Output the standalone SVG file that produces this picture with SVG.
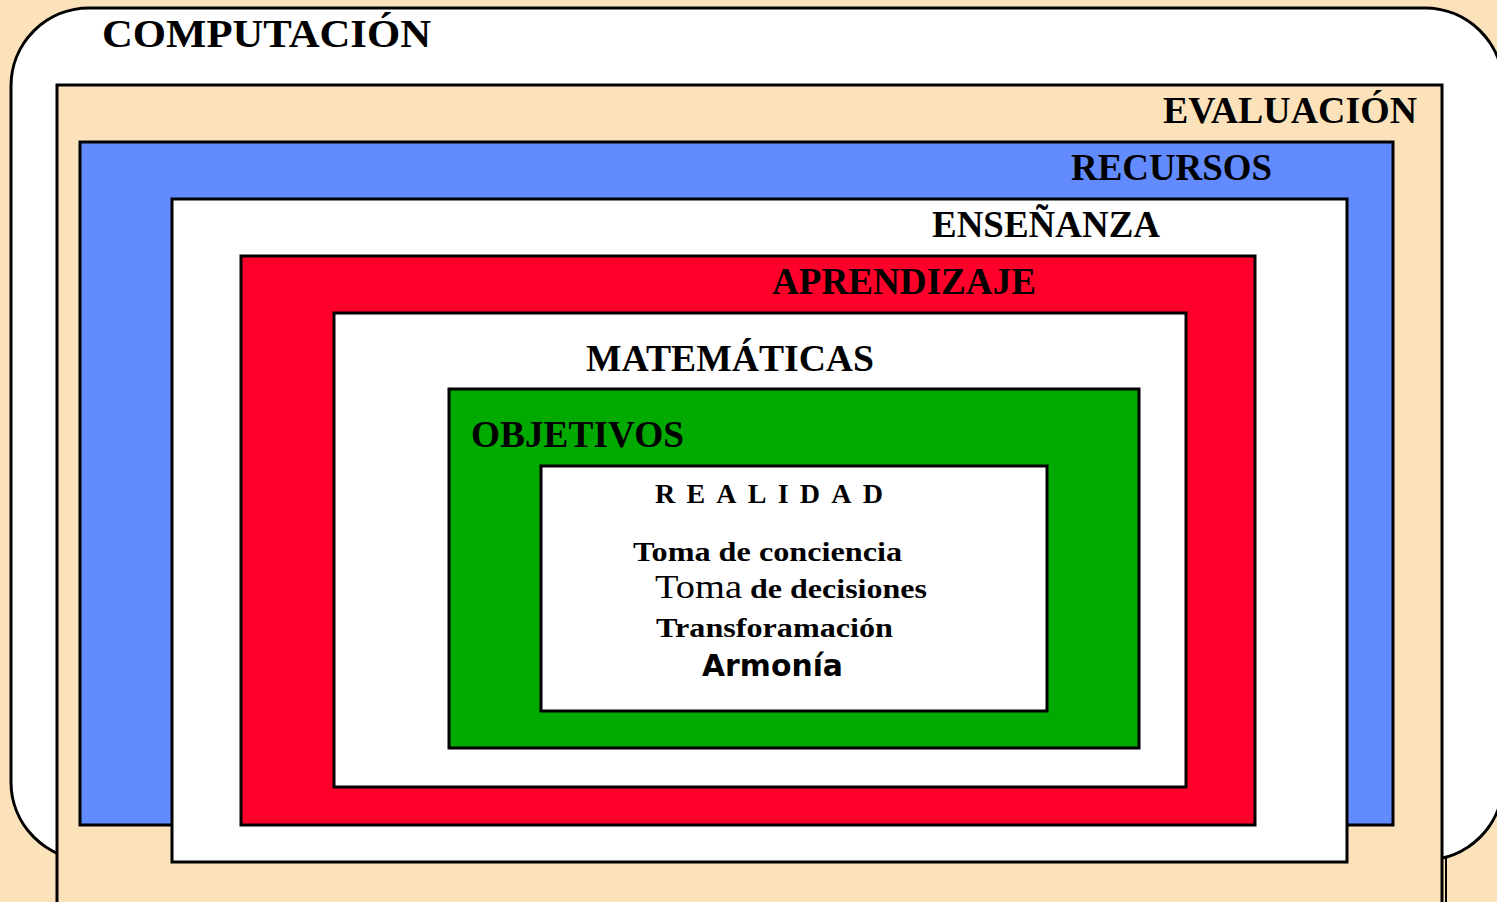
<svg xmlns="http://www.w3.org/2000/svg" width="1497" height="902" viewBox="0 0 1497 902">
<style>
.box{stroke:#000;stroke-width:3}
.lbl{font-family:"Liberation Serif","Times New Roman",serif;font-weight:bold;fill:#000}
.t{font-family:"Liberation Serif","Times New Roman",serif;fill:#000}
</style>
<rect width="1497" height="902" fill="#FCE2BA"/>
<g id="computacion">
<rect class="box" x="11" y="8" width="1492" height="852" rx="78" ry="78" fill="#FFFFFF"/>
<text class="lbl" x="102" y="47" font-size="41" textLength="329" lengthAdjust="spacingAndGlyphs">COMPUTACIÓN</text>
</g>
<g id="evaluacion">
<rect class="box" x="57" y="85" width="1385" height="830" fill="#FCE2BA"/>
<line x1="1446" y1="858" x2="1446" y2="902" stroke="#000" stroke-width="2"/>
<text class="lbl" x="1163" y="123" font-size="37" textLength="254" lengthAdjust="spacingAndGlyphs">EVALUACIÓN</text>
</g>
<g id="recursos">
<rect class="box" x="80" y="142" width="1313" height="683" fill="#628BFF"/>
<text class="lbl" x="1071" y="180" font-size="37" textLength="201" lengthAdjust="spacingAndGlyphs">RECURSOS</text>
</g>
<g id="ensenanza">
<rect class="box" x="172" y="199" width="1175" height="663" fill="#FFFFFF"/>
<text class="lbl" x="932" y="237" font-size="37" textLength="228" lengthAdjust="spacingAndGlyphs">ENSEÑANZA</text>
</g>
<g id="aprendizaje">
<rect class="box" x="241" y="256" width="1014" height="569" fill="#FF002A"/>
<text class="lbl" x="772" y="294" font-size="37" textLength="264" lengthAdjust="spacingAndGlyphs">APRENDIZAJE</text>
</g>
<g id="matematicas">
<rect class="box" x="334" y="313" width="852" height="474" fill="#FFFFFF"/>
<text class="lbl" x="586" y="371" font-size="37" textLength="288" lengthAdjust="spacingAndGlyphs">MATEMÁTICAS</text>
</g>
<g id="objetivos">
<rect class="box" x="449" y="389" width="690" height="359" fill="#00AA00"/>
<text class="lbl" x="471" y="447" font-size="37" textLength="213" lengthAdjust="spacingAndGlyphs">OBJETIVOS</text>
</g>
<g id="realidad">
<rect class="box" x="541" y="466" width="506" height="245" fill="#FFFFFF"/>
<text class="lbl" x="655" y="503" font-size="28" textLength="228" lengthAdjust="spacing">REALIDAD</text>
<text class="lbl" x="633" y="561" font-size="28" textLength="269" lengthAdjust="spacingAndGlyphs">Toma de conciencia</text>
<text class="t" x="655" y="598" font-size="34" textLength="87" lengthAdjust="spacingAndGlyphs">Toma</text>
<text class="lbl" x="750" y="598" font-size="28" textLength="177" lengthAdjust="spacingAndGlyphs">de decisiones</text>
<text class="lbl" x="656" y="637" font-size="28" textLength="237" lengthAdjust="spacingAndGlyphs">Transforamación</text>
<text x="702" y="676" font-family="'DejaVu Sans',sans-serif" font-weight="bold" font-size="30" fill="#000" textLength="141" lengthAdjust="spacingAndGlyphs">Armonía</text>
</g>
<g id="connectors"/>
</svg>
